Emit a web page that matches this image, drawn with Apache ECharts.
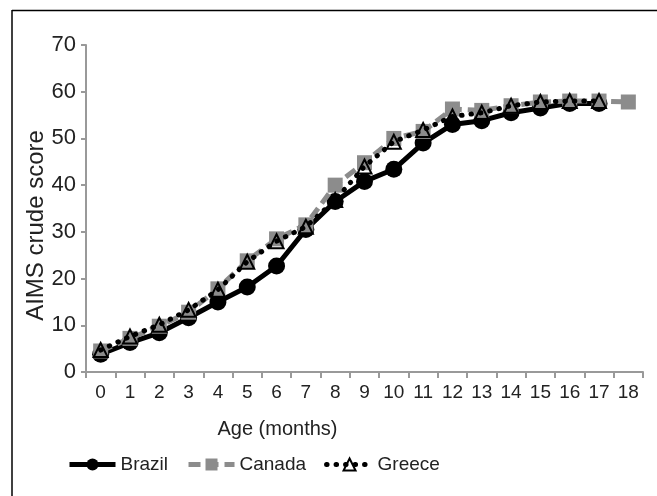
<!DOCTYPE html>
<html>
<head>
<meta charset="utf-8">
<script src="https://cdn.jsdelivr.net/npm/echarts@6/dist/echarts.min.js"></script>
<style>
html,body{margin:0;padding:0;background:#fff;}
#c{width:657px;height:496px;}
</style>
</head>
<body>
<div id="c"></div>
<script>
const months = ['0','1','2','3','4','5','6','7','8','9','10','11','12','13','14','15','16','17','18'];
const brazil = [3.8, 6.3, 8.4, 11.6, 15.0, 18.2, 22.7, 30.5, 36.5, 40.8, 43.4, 49.0, 53.0, 53.8, 55.5, 56.5, 57.5, 57.5];
const canada = [4.5, 7.2, 9.8, 12.8, 17.8, 23.8, 28.5, 31.5, 40.0, 44.8, 50.0, 51.5, 56.3, 56.0, 57.0, 57.8, 58.0, 58.0, 57.8];
const greece = [4.7, 7.6, 10.1, 13.3, 17.6, 23.6, 28.0, 31.1, 36.8, 44.0, 49.3, 51.8, 54.7, 55.5, 57.0, 57.8, 58.0, 58.0];
const yTicks = {min: 0, max: 70, interval: 10};

const chart = echarts.init(document.getElementById('c'));
const font = 'Liberation Sans, Arial, sans-serif';
chart.setOption({
  animation: false,
  backgroundColor: '#fff',
  textStyle: {fontFamily: font},
  graphic: [
    {type: 'line', shape: {x1: 12, y1: 10.5, x2: 657, y2: 10.5}, style: {stroke: '#000', lineWidth: 1.5}},
    {type: 'line', shape: {x1: 12, y1: 10, x2: 12, y2: 496}, style: {stroke: '#000', lineWidth: 1.5}}
  ],
  grid: {left: 86, right: 14, top: 45, bottom: 124},
  xAxis: {
    type: 'category',
    data: months,
    boundaryGap: true,
    name: 'Age (months)',
    nameLocation: 'middle',
    nameGap: 47,
    nameTextStyle: {fontSize: 20, color: '#222', fontFamily: font, padding: [0, 174, 0, 0]},
    axisLine: {lineStyle: {color: '#999', width: 2}},
    axisTick: {show: true, length: 6, lineStyle: {color: '#999', width: 2}},
    axisLabel: {fontSize: 19, color: '#222', margin: 11, interval: 0, fontFamily: font}
  },
  yAxis: {
    type: 'value',
    min: yTicks.min, max: yTicks.max, interval: yTicks.interval,
    name: 'AIMS crude score',
    nameLocation: 'middle',
    nameGap: 38,
    nameMoveOverlap: false,
    nameTextStyle: {fontSize: 24, color: '#222', fontFamily: font, padding: [0, 34, 0, 0]},
    axisLine: {show: true, lineStyle: {color: '#999', width: 2}},
    axisTick: {show: true, length: 5, lineStyle: {color: '#999', width: 2}},
    splitLine: {show: false},
    axisLabel: {fontSize: 22, color: '#222', margin: 10, fontFamily: font}
  },
  legend: {
    bottom: 17,
    left: 62,
    itemWidth: 46,
    itemHeight: 15,
    itemGap: 18,
    lineStyle: {width: 5},
    textStyle: {fontSize: 19, color: '#222', fontFamily: font},
    data: ['Brazil', 'Canada', 'Greece']
  },
  series: [
    {
      name: 'Brazil', type: 'line', data: brazil,
      symbol: 'circle', symbolSize: 17,
      lineStyle: {color: '#000', width: 5},
      itemStyle: {color: '#000'},
      z: 2
    },
    {
      name: 'Canada', type: 'line', data: canada,
      symbol: 'rect', symbolSize: 15,
      lineStyle: {color: '#8c8c8c', width: 5, type: [12, 6]},
      itemStyle: {color: '#8c8c8c'},
      z: 3
    },
    {
      name: 'Greece', type: 'line', data: greece,
      symbol: 'triangle', symbolSize: 14,
      lineStyle: {color: '#000', width: 5, type: [0.5, 9], cap: 'round'},
      itemStyle: {color: 'rgba(0,0,0,0)', borderColor: '#000', borderWidth: 2},
      z: 4
    }
  ]
});
</script>
</body>
</html>
